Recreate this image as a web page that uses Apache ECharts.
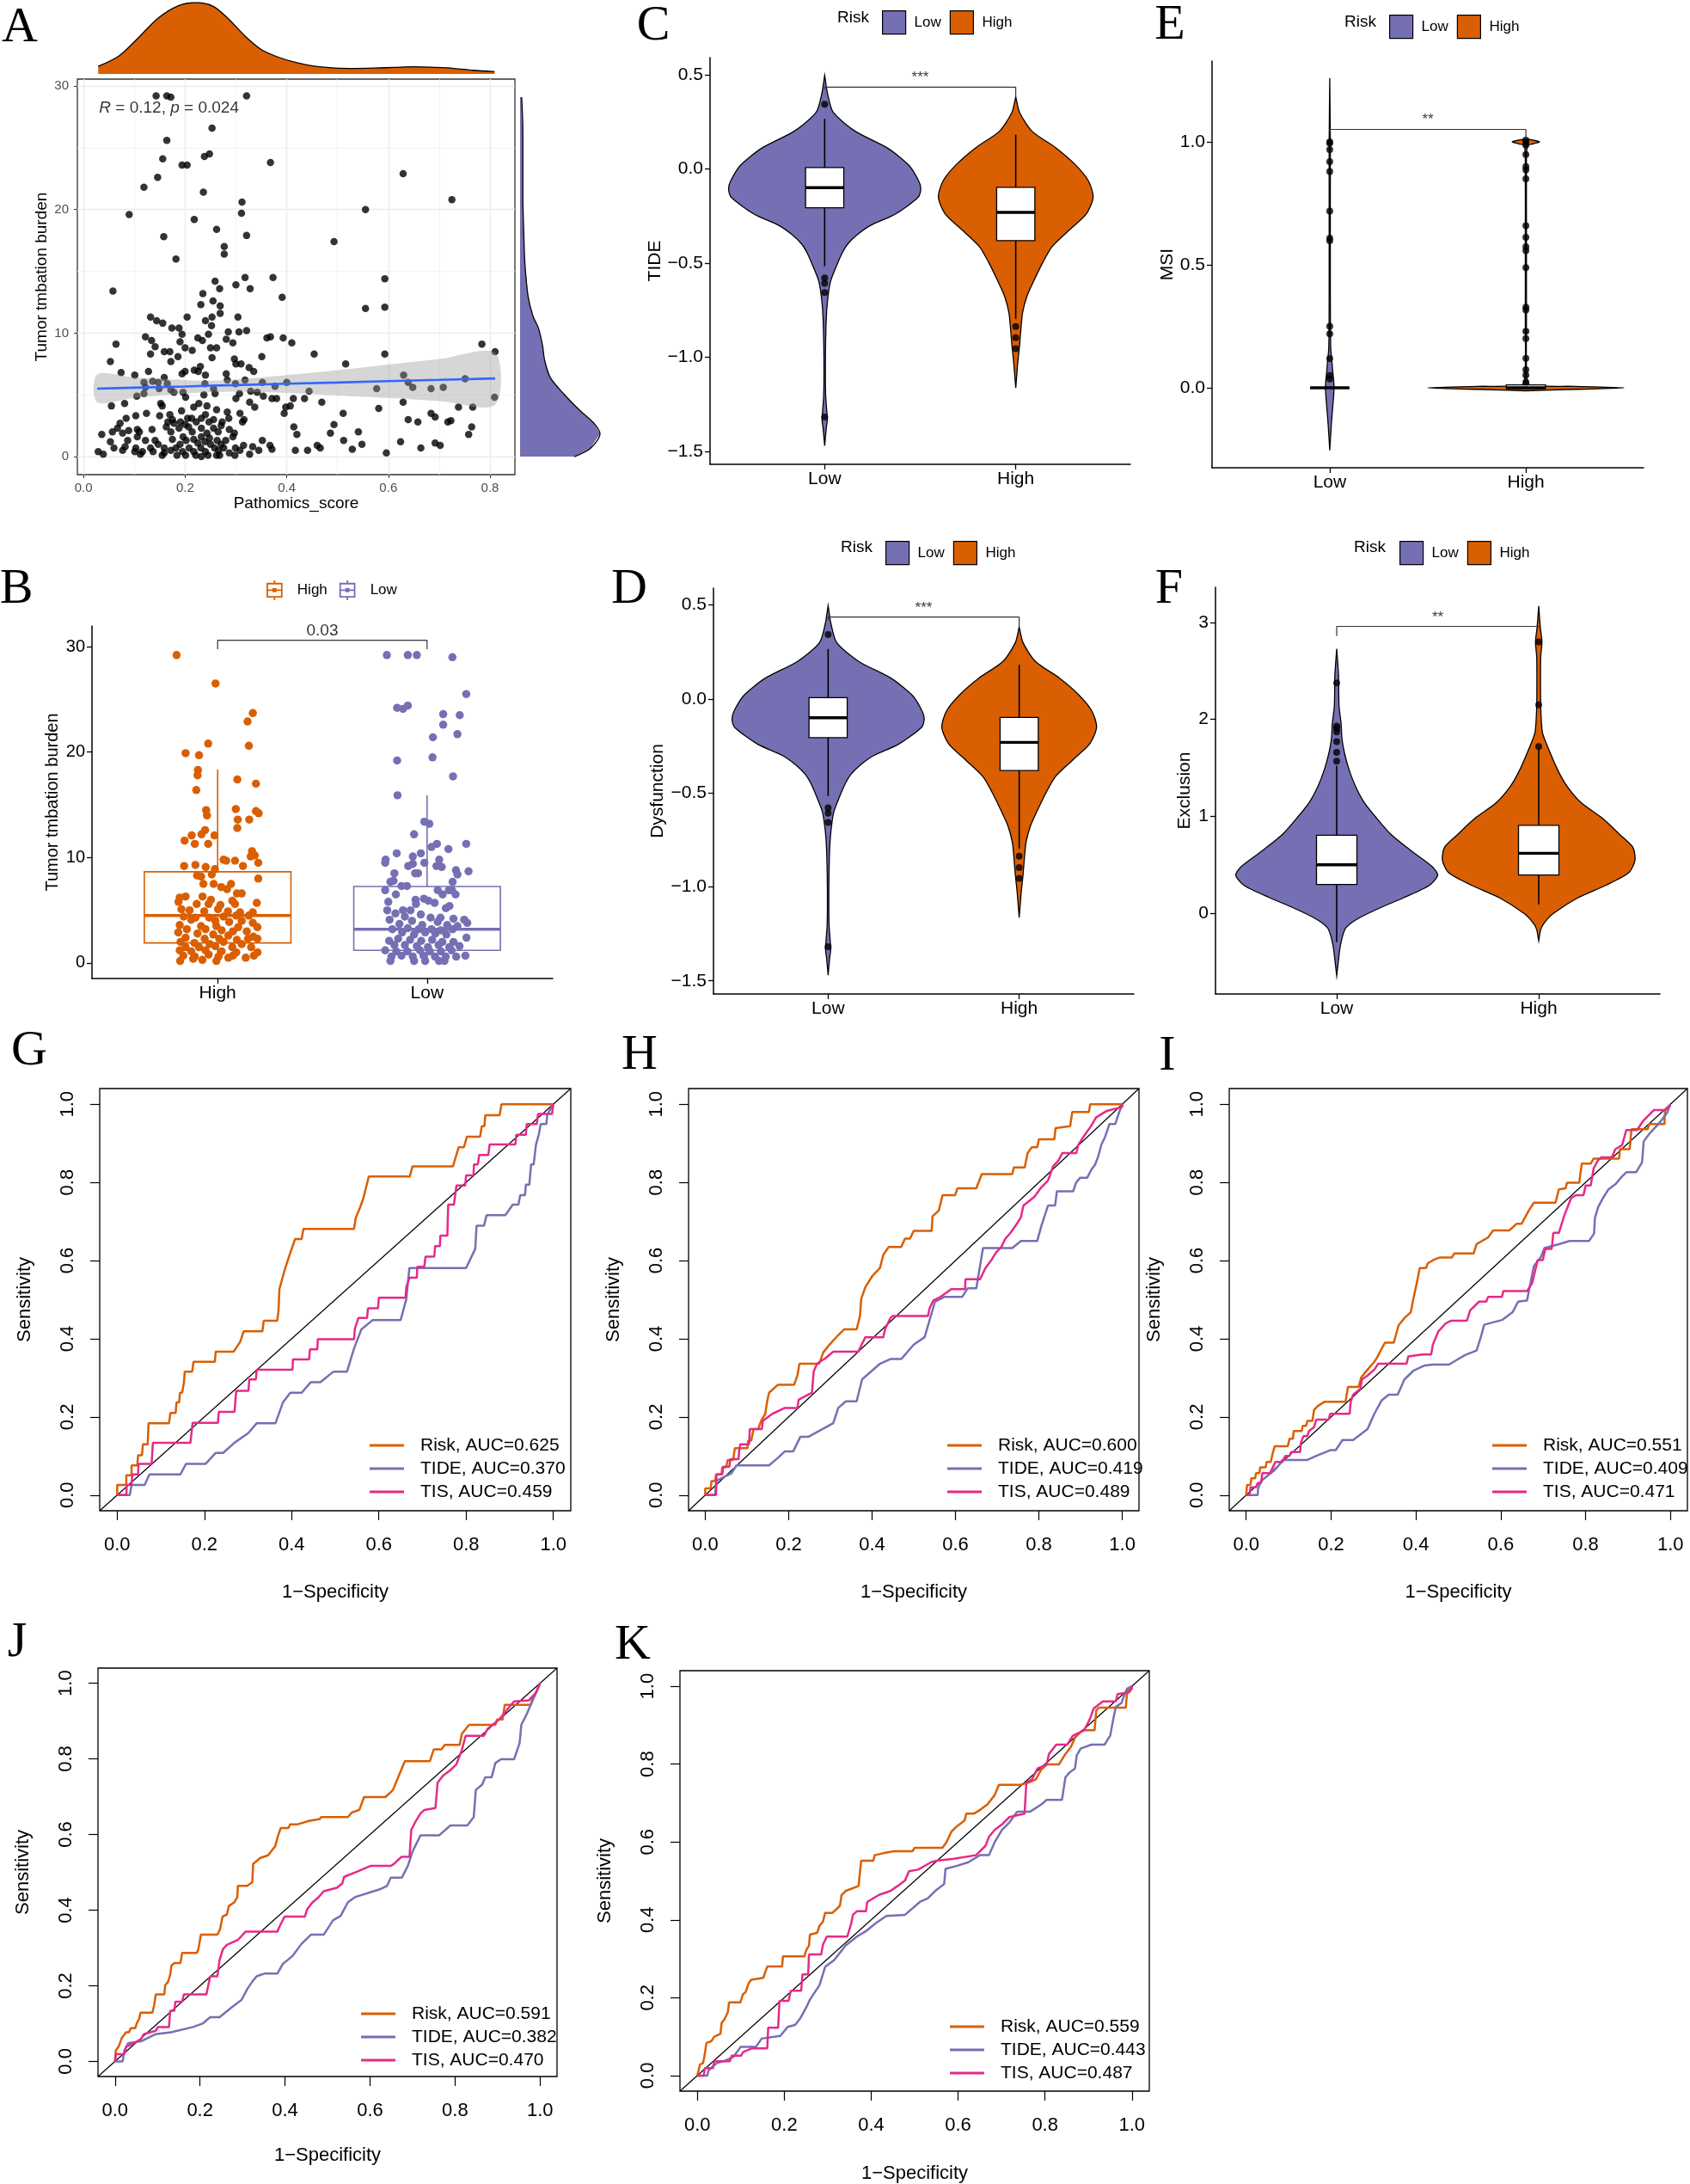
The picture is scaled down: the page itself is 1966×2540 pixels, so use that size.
<!DOCTYPE html>
<html>
<head>
<meta charset="utf-8">
<script src="https://cdn.jsdelivr.net/npm/echarts@6/dist/echarts.min.js"></script>
<style>
  html, body { margin: 0; padding: 0; background: #fff; }
  #chart { width: 1966px; height: 2540px; }
</style>
</head>
<body>
<div id="chart"></div>
<script>
const SANS = "'Liberation Sans', Arial, sans-serif"
const SERIF = "'Liberation Serif', 'Times New Roman', serif"
const ORANGE = '#D95F02'
const PURPLE = '#7570B3'
const PINK = '#E7298A'

// ---------- A: pathomics score vs TMB ----------
const tmbScatter = [
  [0.143,29.2],[0.164,29.2],[0.172,29.1],[0.321,29.2],[0.253,26.6],[0.164,25.6],[0.248,24.5],[0.238,24.3],[0.156,24.1],[0.368,23.8],
  [0.194,23.6],[0.204,23.6],[0.146,22.6],[0.629,22.9],[0.119,21.8],[0.236,21.4],[0.312,20.6],[0.725,20.8],[0.311,19.7],[0.090,19.6],
  [0.555,20.0],[0.218,19.2],[0.262,18.4],[0.158,17.8],[0.321,17.9],[0.493,17.4],[0.277,17.0],[0.277,16.4],[0.182,16.0],[0.373,14.5],
  [0.318,14.5],[0.593,14.4],[0.259,14.2],[0.300,13.9],[0.328,13.6],[0.268,13.6],[0.058,13.4],[0.235,13.2],[0.391,12.9],[0.255,12.6],
  [0.231,12.3],[0.269,12.2],[0.555,12.0],[0.593,12.1],[0.269,11.6],[0.132,11.3],[0.204,11.3],[0.304,11.3],[0.253,11.3],[0.144,11.0],
  [0.156,10.8],[0.240,11.0],[0.252,10.6],[0.174,10.4],[0.188,10.4],[0.321,10.2],[0.285,10.1],[0.194,9.9],[0.246,9.9],[0.122,9.7],
  [0.306,10.1],[0.361,9.6],[0.368,9.7],[0.225,9.6],[0.134,9.4],[0.393,9.6],[0.281,9.5],[0.234,9.4],[0.294,9.2],[0.064,9.1],
  [0.190,9.3],[0.410,9.2],[0.141,8.9],[0.200,8.8],[0.784,9.1],[0.250,8.8],[0.262,8.8],[0.214,8.6],[0.159,8.5],[0.170,8.5],
  [0.810,8.5],[0.132,8.3],[0.454,8.3],[0.593,8.3],[0.186,8.1],[0.351,8.1],[0.172,7.7],[0.053,7.7],[0.253,8.0],[0.297,7.9],
  [0.300,7.5],[0.310,7.5],[0.516,7.5],[0.230,7.3],[0.326,7.2],[0.335,6.9],[0.218,7.0],[0.200,6.9],[0.074,6.8],[0.128,6.9],
  [0.226,6.9],[0.101,6.6],[0.194,6.7],[0.240,6.6],[0.281,6.7],[0.630,6.6],[0.159,6.4],[0.136,6.1],[0.119,6.0],[0.147,6.0],
  [0.283,6.2],[0.318,6.2],[0.352,6.0],[0.400,6.0],[0.639,6.0],[0.751,6.3],[0.299,5.9],[0.165,5.9],[0.377,5.7],[0.239,5.9],
  [0.648,5.6],[0.577,5.5],[0.684,5.5],[0.708,5.6],[0.122,5.6],[0.256,5.5],[0.149,5.5],[0.172,5.4],[0.329,5.3],[0.444,5.3],
  [0.342,5.2],[0.178,5.2],[0.196,5.2],[0.307,5.1],[0.119,5.1],[0.105,4.9],[0.237,5.0],[0.259,5.1],[0.354,4.9],[0.201,4.8],
  [0.809,4.8],[0.300,4.7],[0.371,4.7],[0.380,4.7],[0.413,4.7],[0.435,4.7],[0.327,4.4],[0.469,4.4],[0.629,4.4],[0.227,4.3],
  [0.152,4.3],[0.081,4.3],[0.055,4.1],[0.243,4.1],[0.407,4.1],[0.337,4.0],[0.398,4.0],[0.738,4.0],[0.766,4.0],[0.155,4.1],
  [0.217,4.0],[0.581,3.9],[0.193,3.7],[0.262,3.8],[0.124,3.5],[0.283,3.6],[0.308,3.5],[0.395,3.5],[0.511,3.5],[0.684,3.5],
  [0.170,3.4],[0.240,3.4],[0.103,3.3],[0.692,3.2],[0.150,3.3],[0.084,3.1],[0.175,3.0],[0.205,3.1],[0.213,3.1],[0.232,3.1],
  [0.256,3.0],[0.286,3.1],[0.316,3.0],[0.639,3.0],[0.658,2.8],[0.717,2.8],[0.723,2.9],[0.166,2.8],[0.191,2.8],[0.222,2.8],
  [0.247,2.8],[0.273,2.8],[0.313,2.8],[0.072,2.7],[0.178,2.7],[0.200,2.6],[0.493,2.6],[0.067,2.3],[0.089,2.1],[0.106,2.2],
  [0.135,2.2],[0.163,2.4],[0.188,2.3],[0.207,2.4],[0.232,2.3],[0.256,2.3],[0.271,2.5],[0.287,2.2],[0.414,2.4],[0.541,2.0],
  [0.764,2.4],[0.057,2.0],[0.077,1.9],[0.110,2.0],[0.172,2.0],[0.214,2.0],[0.243,1.9],[0.265,2.0],[0.297,1.9],[0.036,1.8],
  [0.420,1.8],[0.486,1.9],[0.758,1.8],[0.106,1.6],[0.196,1.6],[0.232,1.6],[0.248,1.5],[0.294,1.6],[0.053,1.2],[0.087,1.3],
  [0.122,1.3],[0.141,1.3],[0.175,1.4],[0.202,1.3],[0.217,1.4],[0.239,1.2],[0.263,1.3],[0.280,1.3],[0.352,1.3],[0.512,1.3],
  [0.548,1.0],[0.624,1.2],[0.692,1.1],[0.702,0.9],[0.147,1.0],[0.190,1.0],[0.225,1.1],[0.250,1.0],[0.271,1.0],[0.315,0.9],
  [0.367,0.9],[0.060,0.7],[0.082,0.8],[0.103,0.7],[0.132,0.7],[0.159,0.7],[0.182,0.7],[0.208,0.7],[0.231,0.7],[0.258,0.7],
  [0.276,0.7],[0.299,0.7],[0.333,0.8],[0.371,0.6],[0.460,0.9],[0.466,0.7],[0.664,0.7],[0.029,0.4],[0.077,0.5],[0.101,0.4],
  [0.116,0.4],[0.137,0.4],[0.172,0.5],[0.195,0.4],[0.217,0.4],[0.240,0.4],[0.266,0.5],[0.287,0.3],[0.308,0.5],[0.345,0.5],
  [0.417,0.5],[0.441,0.5],[0.529,0.6],[0.596,0.3],[0.039,0.2],[0.112,0.2],[0.155,0.1],[0.184,0.1],[0.221,0.1],[0.232,0.0],
  [0.262,0.1],[0.268,0.1],[0.327,0.2],[0.159,0.3],[0.201,0.1],[0.245,0.1],[0.298,0.1]
]
const fitX = [0.027, 0.1, 0.2, 0.25, 0.3, 0.4, 0.5, 0.6, 0.7, 0.81]
const fitY = [5.50, 5.58, 5.68, 5.74, 5.79, 5.90, 6.00, 6.11, 6.21, 6.33]
const fitLo = [4.4, 4.75, 5.1, 5.2, 5.25, 5.15, 4.95, 4.75, 4.5, 4.2]
const fitHi = [6.65, 6.4, 6.2, 6.15, 6.25, 6.6, 7.0, 7.45, 7.9, 8.4]
const scoreDensX = [0.029, 0.070, 0.108, 0.147, 0.186, 0.221, 0.256, 0.287, 0.318, 0.349, 0.380, 0.418, 0.457, 0.496, 0.535, 0.573, 0.612, 0.651, 0.690, 0.729, 0.767, 0.809]
const scoreDensY = [0.106, 0.253, 0.507, 0.783, 0.954, 1.0, 0.945, 0.760, 0.530, 0.346, 0.244, 0.161, 0.106, 0.083, 0.078, 0.083, 0.092, 0.101, 0.092, 0.078, 0.051, 0.032]
const tmbDensV = [0, 0.66, 1.86, 2.66, 3.72, 5.05, 6.38, 7.71, 9.04, 10.4, 11.4, 13.0, 15.7, 18.4, 21.0, 23.7, 26.3, 29.1]
const tmbDensD = [0.68, 0.88, 1.0, 0.93, 0.75, 0.55, 0.38, 0.31, 0.28, 0.23, 0.16, 0.10, 0.06, 0.045, 0.035, 0.035, 0.035, 0.02]

// ---------- B: TMB by risk group (offset, value) ----------
const tmbHighJitter = [
  [-0.196,29.2],[-0.01,26.5],[0.168,23.7],[0.143,22.9],[-0.045,20.8],[0.149,20.6],[-0.153,19.9],[-0.089,19.7],[-0.094,18.3],[-0.096,17.8],
  [0.094,17.4],[0.183,17.0],[-0.102,16.4],[-0.055,14.5],[0.087,14.6],[0.183,14.4],[0.196,14.2],[-0.051,14.0],[0.096,13.6],[0.151,13.6],
  [0.094,12.8],[-0.06,12.6],[-0.077,12.2],[-0.124,12.1],[-0.015,12.1],[-0.158,11.6],[-0.109,11.3],[-0.045,11.3],[0.164,10.6],[0.158,10.1],
  [0.177,10.2],[0.028,9.8],[0.041,9.7],[0.083,9.7],[0.194,9.5],[-0.160,9.2],[-0.106,9.3],[-0.057,9.1],[-0.013,8.9],[0.121,9.2],
  [-0.098,8.3],[-0.079,8.2],[-0.028,8.4],[0.194,8.0],[-0.068,7.5],[-0.019,7.5],[0.064,7.5],[0.017,7.2],[0.045,7.0],[0.092,6.6],
  [0.115,6.6],[-0.181,6.2],[-0.153,6.3],[-0.072,6.3],[-0.032,6.0],[0.070,5.9],[0.187,5.7],[-0.187,5.8],[-0.1,5.6],[-0.043,5.6],
  [0.013,5.5],[0.083,5.6],[-0.173,5.1],[-0.134,5.0],[-0.064,4.9],[0.002,5.1],[0.049,4.9],[0.107,4.8],[0.168,4.8],[-0.162,4.4],
  [-0.106,4.3],[-0.04,4.3],[0.028,4.4],[0.089,4.5],[0.149,4.5],[-0.126,4.1],[-0.011,4.0],[0.055,3.9],[0.115,4.0],[0.168,3.8],
  [-0.181,3.6],[-0.079,3.5],[-0.006,3.5],[0.098,3.4],[0.19,3.4],[-0.147,3.2],[-0.058,3.2],[0.019,3.1],[0.073,3.0],[0.139,3.0],
  [-0.188,2.9],[-0.096,2.8],[-0.021,2.7],[0.051,2.6],[0.171,2.5],[-0.153,2.4],[-0.062,2.3],[0.008,2.3],[0.092,2.2],[0.145,2.3],
  [0.19,2.3],[-0.177,2.0],[-0.111,1.9],[-0.038,1.8],[0.028,2.0],[0.115,1.8],[-0.153,1.5],[-0.089,1.5],[-0.011,1.6],[0.07,1.5],
  [0.160,1.5],[-0.181,1.2],[-0.126,1.1],[-0.058,1.2],[0.019,1.1],[0.089,1.0],[0.19,1.0],[-0.164,0.7],[-0.109,0.6],[-0.043,0.8],
  [0.004,0.6],[0.073,0.7],[0.134,0.5],[0.173,0.7],[-0.179,0.2],[-0.117,0.4],[-0.073,0.3],[-0.006,0.2],[0.051,0.5]
]
const tmbLowJitter = [
  [-0.192,29.2],[-0.092,29.2],[-0.049,29.2],[0.121,29.0],[0.187,25.5],[-0.143,24.2],[-0.115,24.1],[-0.092,24.4],[0.077,23.6],[0.156,23.5],
  [0.077,22.6],[0.145,21.7],[0.028,21.4],[0.026,19.5],[-0.143,19.2],[0.124,17.7],[-0.141,15.9],[-0.013,13.4],[0.011,13.2],[-0.062,12.2],
  [0.021,11.0],[0.047,11.3],[0.187,11.3],[0.102,10.8],[-0.145,10.4],[-0.068,10.1],[-0.030,10.4],[-0.198,9.8],[0.058,9.8],[-0.068,9.4],
  [-0.013,9.5],[-0.090,9.2],[-0.2,9.5],[0.045,9.2],[0.070,9.1],[0.198,8.7],[0.138,8.8],[0.145,8.4],[-0.057,8.5],[-0.043,8.5],
  [-0.156,8.5],[-0.175,7.7],[-0.160,7.8],[0.122,7.7],[-0.122,7.3],[-0.096,7.3],[-0.2,6.9],[0.051,6.9],[0.119,6.9],[-0.149,6.5],
  [0.074,6.5],[0.136,6.5],[0.104,6.9],[-0.015,6.1],[-0.055,6.0],[0.006,5.9],[-0.185,5.8],[0.036,5.7],[-0.053,5.6],[0.107,5.4],
  [0.090,5.2],[-0.190,5.0],[-0.115,5.0],[-0.079,5.0],[-0.151,4.7],[-0.106,4.4],[-0.030,4.6],[0.017,4.3],[0.064,4.3],[0.126,4.2],
  [0.177,4.1],[-0.179,4.1],[-0.072,4.0],[0.051,3.9],[0.192,3.8],[-0.132,3.7],[-0.023,3.6],[0.096,3.6],[0.145,3.5],[-0.166,3.2],
  [-0.092,3.3],[-0.040,3.2],[0.021,3.2],[0.066,3.1],[0.122,3.2],[-0.119,2.9],[-0.062,2.7],[-0.009,2.9],[0.040,2.8],[0.092,2.7],
  [0.188,2.4],[-0.181,2.1],[-0.138,2.3],[-0.081,2.2],[-0.028,2.1],[0.024,2.2],[0.073,2.0],[0.126,2.0],[-0.156,1.7],[-0.106,1.7],
  [-0.049,1.6],[0.004,1.5],[0.055,1.7],[0.106,1.5],[0.155,1.6],[-0.2,1.2],[-0.147,1.1],[-0.094,1.1],[-0.034,1.2],[0.013,1.1],
  [0.066,1.1],[0.117,1.2],[0.183,0.7],[-0.170,0.6],[-0.122,0.7],[-0.068,0.6],[-0.017,0.7],[0.038,0.6],[0.089,0.6],[0.139,0.6],
  [-0.175,0.2],[-0.062,0.2],[-0.009,0.2],[0.057,0.2],[0.083,0.2]
]
// [lower whisker, Q1, median, Q3, upper whisker]
const tmbBoxHigh = [0.1, 1.9, 4.5, 8.65, 18.35]
const tmbBoxLow = [0.0, 1.2, 3.2, 7.25, 15.9]
const bracketB = [[0, 29.76], [0, 30.6], [1, 30.6], [1, 29.76]]

// ---------- C / D: TIDE and Dysfunction (same distribution) ----------
const tideLowV = [0.497, 0.40, 0.30, 0.20, 0.11, 0.02, -0.06, -0.105, -0.15, -0.24, -0.30, -0.35, -0.40, -0.45, -0.52, -0.60, -0.70, -0.80, -1.0, -1.2, -1.30, -1.33, -1.38, -1.47]
const tideLowW = [0, 0.015, 0.045, 0.16, 0.33, 0.44, 0.49, 0.503, 0.49, 0.37, 0.24, 0.17, 0.12, 0.09, 0.06, 0.03, 0.015, 0.008, 0.004, 0.005, 0.012, 0.014, 0.008, 0]
const tideHighV = [0.383, 0.30, 0.20, 0.112, 0.024, -0.063, -0.15, -0.238, -0.325, -0.413, -0.5, -0.587, -0.675, -0.762, -0.85, -0.937, -1.024, -1.10, -1.164]
const tideHighW = [0, 0.02, 0.085, 0.21, 0.31, 0.38, 0.405, 0.37, 0.28, 0.19, 0.14, 0.098, 0.059, 0.036, 0.027, 0.02, 0.011, 0.005, 0]
const tideBoxLow = [-0.517, -0.206, -0.10, 0.007, 0.266]
const tideBoxHigh = [-0.797, -0.381, -0.231, -0.098, 0.182]
const tideOutLow = [0.343, -0.579, -0.608, -0.657, -1.318]
const tideOutHigh = [-0.837, -0.897, -0.955]

// ---------- E: MSI ----------
const msiLowV = [-0.254, -0.15, -0.08, -0.03, 0, 0.03, 0.06, 0.1, 0.15, 0.2, 0.4, 0.8, 1.0, 1.26]
const msiLowW = [0, 0.008, 0.015, 0.02, 0.022, 0.02, 0.016, 0.012, 0.006, 0.004, 0.003, 0.003, 0.003, 0]
const msiHighV = [-0.012, -0.006, 0, 0.006, 0.012, 0.05, 0.3, 0.6, 0.9, 0.985, 0.993, 1.0, 1.007, 1.013]
const msiHighW = [0, 0.25, 0.5, 0.25, 0.02, 0.004, 0.003, 0.003, 0.003, 0.008, 0.04, 0.07, 0.04, 0]
const msiBoxLow = [0, 0, 0, 0, 0]
const msiBoxHigh = [0, 0, 0, 0.012, 0.03]
const msiOutLow = [1.0, 0.995, 0.969, 0.92, 0.88, 0.719, 0.609, 0.598, 0.25, 0.22, 0.119, 0.05, 0.036]
const msiOutHigh = [1.007, 1.0, 0.987, 0.949, 0.9, 0.887, 0.85, 0.659, 0.612, 0.574, 0.558, 0.489, 0.328, 0.317, 0.23, 0.2, 0.12, 0.074, 0.052, 0.023]

// ---------- F: Exclusion ----------
const exclLowV = [2.73, 2.46, 2.3, 2.13, 1.95, 1.80, 1.64, 1.47, 1.31, 1.14, 0.98, 0.815, 0.65, 0.486, 0.394, 0.289, 0.158, 0.06, -0.04, -0.105, -0.17, -0.335, -0.5, -0.647]
const exclLowW = [0, 0.009, 0.01, 0.012, 0.022, 0.026, 0.04, 0.063, 0.093, 0.137, 0.198, 0.268, 0.365, 0.47, 0.5, 0.46, 0.33, 0.22, 0.12, 0.07, 0.04, 0.018, 0.008, 0]
const exclHighV = [3.17, 2.95, 2.80, 2.65, 2.46, 2.13, 1.87, 1.74, 1.47, 1.31, 1.14, 0.98, 0.815, 0.684, 0.552, 0.42, 0.289, 0.158, -0.007, -0.105, -0.17, -0.286]
const exclHighW = [0, 0.008, 0.016, 0.01, 0.009, 0.01, 0.018, 0.04, 0.096, 0.14, 0.21, 0.315, 0.40, 0.465, 0.477, 0.447, 0.333, 0.193, 0.07, 0.026, 0.01, 0]
const exclBoxLow = [-0.30, 0.296, 0.5, 0.805, 1.52]
const exclBoxHigh = [0.092, 0.394, 0.618, 0.907, 1.69]
const exclOutLow = [2.376, 1.93, 1.906, 1.87, 1.77, 1.66, 1.57]
const exclOutHigh = [2.80, 2.15, 1.72]

// ---------- G-K: ROC curves [1-specificity, sensitivity] ----------
const gRisk = [[0,0],[0,0.026],[0.021,0.026],[0.021,0.051],[0.033,0.051],[0.033,0.076],[0.046,0.076],[0.048,0.102],[0.057,0.102],[0.059,0.13],[0.07,0.13],[0.072,0.184],[0.119,0.184],[0.122,0.21],[0.134,0.21],[0.136,0.237],[0.142,0.237],[0.144,0.262],[0.149,0.262],[0.153,0.287],[0.155,0.316],[0.172,0.316],[0.175,0.341],[0.224,0.341],[0.226,0.367],[0.267,0.367],[0.282,0.392],[0.29,0.419],[0.333,0.419],[0.336,0.446],[0.367,0.446],[0.37,0.473],[0.372,0.527],[0.384,0.576],[0.397,0.62],[0.408,0.655],[0.423,0.655],[0.427,0.681],[0.543,0.681],[0.547,0.709],[0.556,0.733],[0.564,0.758],[0.577,0.815],[0.671,0.815],[0.677,0.841],[0.77,0.841],[0.783,0.89],[0.795,0.89],[0.802,0.917],[0.832,0.917],[0.836,0.944],[0.842,0.944],[0.844,0.972],[0.877,0.972],[0.881,1],[1,1]]
const gTide = [[0,0],[0.029,0],[0.033,0.026],[0.063,0.026],[0.074,0.053],[0.145,0.053],[0.158,0.08],[0.203,0.08],[0.226,0.108],[0.243,0.108],[0.269,0.134],[0.301,0.159],[0.32,0.184],[0.363,0.184],[0.38,0.237],[0.397,0.262],[0.423,0.262],[0.444,0.289],[0.466,0.289],[0.496,0.316],[0.527,0.316],[0.543,0.375],[0.56,0.424],[0.586,0.448],[0.65,0.448],[0.663,0.502],[0.67,0.581],[0.8,0.581],[0.821,0.63],[0.824,0.689],[0.841,0.689],[0.847,0.716],[0.89,0.716],[0.907,0.743],[0.92,0.743],[0.924,0.767],[0.935,0.767],[0.937,0.794],[0.945,0.794],[0.949,0.846],[0.955,0.846],[0.96,0.895],[0.967,0.924],[0.971,0.949],[0.984,0.949],[0.986,0.973],[1,1]]
const gTis = [[0,0],[0.021,0],[0.022,0.026],[0.033,0.026],[0.035,0.053],[0.048,0.053],[0.049,0.08],[0.079,0.08],[0.082,0.134],[0.168,0.134],[0.173,0.185],[0.231,0.185],[0.233,0.213],[0.269,0.213],[0.273,0.267],[0.301,0.267],[0.303,0.296],[0.318,0.296],[0.32,0.321],[0.402,0.321],[0.403,0.347],[0.44,0.347],[0.442,0.373],[0.459,0.373],[0.46,0.399],[0.543,0.399],[0.545,0.426],[0.553,0.453],[0.573,0.453],[0.575,0.478],[0.598,0.478],[0.6,0.505],[0.661,0.505],[0.663,0.532],[0.67,0.556],[0.687,0.556],[0.688,0.584],[0.704,0.584],[0.707,0.61],[0.727,0.61],[0.729,0.637],[0.74,0.637],[0.741,0.664],[0.757,0.664],[0.759,0.743],[0.772,0.743],[0.778,0.792],[0.798,0.792],[0.8,0.818],[0.817,0.818],[0.818,0.846],[0.827,0.846],[0.83,0.87],[0.851,0.87],[0.854,0.897],[0.913,0.897],[0.915,0.922],[0.937,0.922],[0.939,0.949],[0.962,0.949],[0.965,0.975],[0.997,0.975],[1,1]]
const hRisk = [[0,0],[0,0.017],[0.013,0.017],[0.015,0.036],[0.024,0.036],[0.026,0.053],[0.039,0.053],[0.041,0.071],[0.05,0.071],[0.054,0.09],[0.067,0.09],[0.071,0.12],[0.101,0.12],[0.103,0.139],[0.11,0.139],[0.116,0.169],[0.127,0.169],[0.134,0.19],[0.144,0.208],[0.148,0.237],[0.153,0.262],[0.174,0.282],[0.213,0.282],[0.221,0.306],[0.226,0.336],[0.273,0.336],[0.283,0.365],[0.298,0.385],[0.316,0.406],[0.333,0.424],[0.363,0.424],[0.371,0.458],[0.374,0.502],[0.384,0.532],[0.401,0.561],[0.419,0.581],[0.427,0.615],[0.44,0.635],[0.47,0.635],[0.479,0.656],[0.491,0.656],[0.5,0.676],[0.543,0.676],[0.545,0.713],[0.56,0.728],[0.569,0.767],[0.599,0.767],[0.605,0.785],[0.65,0.785],[0.663,0.821],[0.736,0.821],[0.74,0.838],[0.766,0.838],[0.773,0.875],[0.783,0.89],[0.796,0.89],[0.8,0.91],[0.837,0.91],[0.84,0.939],[0.875,0.944],[0.88,0.98],[0.92,0.98],[0.923,1],[1,1]]
const hTide = [[0,0],[0.024,0],[0.026,0.036],[0.063,0.056],[0.075,0.076],[0.153,0.076],[0.174,0.095],[0.191,0.112],[0.211,0.112],[0.228,0.149],[0.247,0.149],[0.307,0.184],[0.319,0.223],[0.337,0.24],[0.363,0.24],[0.376,0.296],[0.419,0.336],[0.444,0.348],[0.47,0.348],[0.5,0.385],[0.526,0.404],[0.551,0.495],[0.573,0.507],[0.616,0.507],[0.629,0.529],[0.65,0.529],[0.666,0.632],[0.736,0.632],[0.757,0.65],[0.796,0.65],[0.806,0.689],[0.822,0.741],[0.839,0.741],[0.843,0.777],[0.882,0.777],[0.889,0.799],[0.899,0.812],[0.916,0.812],[0.925,0.831],[0.935,0.846],[0.942,0.866],[0.95,0.897],[0.959,0.917],[0.969,0.949],[0.983,0.949],[0.991,0.975],[1,1]]
const hTis = [[0,0],[0.026,0],[0.027,0.053],[0.041,0.053],[0.043,0.073],[0.058,0.073],[0.06,0.092],[0.08,0.092],[0.081,0.11],[0.084,0.13],[0.105,0.13],[0.107,0.169],[0.136,0.169],[0.138,0.19],[0.161,0.208],[0.191,0.223],[0.221,0.223],[0.224,0.244],[0.256,0.262],[0.26,0.316],[0.268,0.336],[0.288,0.35],[0.307,0.367],[0.367,0.367],[0.376,0.387],[0.384,0.404],[0.427,0.404],[0.431,0.424],[0.444,0.453],[0.449,0.458],[0.534,0.458],[0.538,0.478],[0.547,0.498],[0.564,0.507],[0.59,0.527],[0.623,0.527],[0.624,0.552],[0.659,0.552],[0.666,0.568],[0.672,0.581],[0.686,0.601],[0.697,0.62],[0.71,0.635],[0.719,0.655],[0.732,0.671],[0.744,0.689],[0.757,0.711],[0.763,0.741],[0.789,0.763],[0.804,0.785],[0.822,0.805],[0.834,0.841],[0.847,0.856],[0.856,0.875],[0.89,0.875],[0.894,0.895],[0.907,0.917],[0.925,0.944],[0.937,0.966],[0.963,0.983],[1,0.993],[1,1]]
const iRisk = [[0,0],[0.002,0.026],[0.01,0.026],[0.012,0.043],[0.021,0.043],[0.023,0.056],[0.031,0.056],[0.033,0.071],[0.046,0.071],[0.048,0.085],[0.058,0.085],[0.062,0.105],[0.067,0.125],[0.098,0.125],[0.102,0.144],[0.11,0.144],[0.112,0.164],[0.131,0.164],[0.133,0.177],[0.141,0.177],[0.144,0.19],[0.156,0.19],[0.16,0.218],[0.169,0.228],[0.185,0.239],[0.234,0.239],[0.24,0.277],[0.265,0.277],[0.271,0.301],[0.286,0.321],[0.302,0.341],[0.309,0.353],[0.317,0.37],[0.327,0.39],[0.348,0.39],[0.359,0.434],[0.373,0.453],[0.388,0.468],[0.394,0.502],[0.403,0.547],[0.409,0.581],[0.424,0.581],[0.428,0.593],[0.444,0.603],[0.457,0.608],[0.485,0.608],[0.49,0.618],[0.536,0.618],[0.543,0.642],[0.57,0.659],[0.582,0.677],[0.62,0.677],[0.637,0.694],[0.649,0.694],[0.666,0.728],[0.678,0.748],[0.729,0.748],[0.737,0.782],[0.753,0.785],[0.756,0.799],[0.785,0.799],[0.791,0.848],[0.812,0.848],[0.819,0.861],[0.879,0.861],[0.881,0.885],[0.904,0.885],[0.908,0.936],[0.946,0.936],[0.95,0.949],[0.986,0.949],[0.987,0.983],[1,1]]
const iTide = [[0,0],[0.027,0],[0.028,0.017],[0.035,0.036],[0.052,0.051],[0.064,0.061],[0.077,0.076],[0.085,0.09],[0.144,0.09],[0.169,0.102],[0.198,0.115],[0.211,0.115],[0.227,0.141],[0.252,0.141],[0.286,0.169],[0.302,0.208],[0.319,0.242],[0.336,0.257],[0.357,0.257],[0.373,0.296],[0.394,0.318],[0.419,0.331],[0.44,0.334],[0.478,0.334],[0.495,0.345],[0.515,0.358],[0.543,0.37],[0.553,0.404],[0.561,0.436],[0.603,0.448],[0.628,0.468],[0.641,0.495],[0.662,0.498],[0.668,0.532],[0.678,0.586],[0.695,0.61],[0.703,0.632],[0.737,0.642],[0.762,0.65],[0.808,0.65],[0.82,0.669],[0.822,0.709],[0.83,0.738],[0.841,0.76],[0.854,0.782],[0.872,0.797],[0.883,0.812],[0.896,0.826],[0.919,0.826],[0.933,0.851],[0.937,0.905],[0.95,0.924],[0.967,0.944],[0.979,0.959],[0.992,0.978],[1,1]]
const iTis = [[0,0],[0.008,0],[0.01,0.02],[0.023,0.02],[0.027,0.031],[0.035,0.031],[0.038,0.056],[0.056,0.056],[0.069,0.085],[0.085,0.085],[0.092,0.1],[0.102,0.1],[0.106,0.11],[0.127,0.11],[0.129,0.134],[0.135,0.151],[0.144,0.151],[0.148,0.164],[0.16,0.174],[0.165,0.193],[0.194,0.193],[0.198,0.208],[0.244,0.208],[0.246,0.237],[0.252,0.257],[0.269,0.272],[0.273,0.296],[0.286,0.306],[0.302,0.321],[0.311,0.336],[0.378,0.336],[0.382,0.355],[0.415,0.36],[0.436,0.36],[0.44,0.385],[0.453,0.419],[0.47,0.439],[0.482,0.446],[0.52,0.446],[0.528,0.473],[0.549,0.495],[0.566,0.495],[0.57,0.507],[0.603,0.507],[0.606,0.522],[0.662,0.522],[0.674,0.542],[0.687,0.601],[0.699,0.601],[0.705,0.63],[0.72,0.63],[0.724,0.671],[0.737,0.671],[0.745,0.699],[0.749,0.713],[0.758,0.738],[0.766,0.76],[0.777,0.767],[0.795,0.767],[0.8,0.792],[0.812,0.792],[0.819,0.836],[0.829,0.856],[0.837,0.864],[0.862,0.864],[0.87,0.885],[0.886,0.895],[0.896,0.934],[0.921,0.934],[0.937,0.959],[0.961,0.985],[0.987,0.985],[1,0.998]]
const jRisk = [[0,0],[0.002,0.029],[0.009,0.04],[0.016,0.062],[0.026,0.077],[0.033,0.077],[0.037,0.088],[0.048,0.088],[0.051,0.1],[0.057,0.113],[0.06,0.129],[0.088,0.129],[0.092,0.148],[0.096,0.177],[0.116,0.177],[0.118,0.201],[0.125,0.211],[0.13,0.23],[0.133,0.254],[0.14,0.26],[0.154,0.26],[0.158,0.287],[0.193,0.287],[0.197,0.301],[0.202,0.335],[0.241,0.335],[0.247,0.349],[0.253,0.383],[0.263,0.388],[0.268,0.411],[0.281,0.421],[0.288,0.435],[0.289,0.464],[0.311,0.464],[0.323,0.474],[0.325,0.522],[0.342,0.538],[0.36,0.545],[0.377,0.569],[0.384,0.598],[0.39,0.617],[0.408,0.617],[0.412,0.627],[0.43,0.627],[0.456,0.636],[0.482,0.641],[0.485,0.646],[0.548,0.646],[0.557,0.658],[0.575,0.665],[0.586,0.699],[0.636,0.699],[0.645,0.708],[0.654,0.718],[0.675,0.775],[0.682,0.794],[0.741,0.794],[0.75,0.825],[0.768,0.825],[0.776,0.837],[0.811,0.837],[0.816,0.866],[0.833,0.89],[0.895,0.89],[0.899,0.904],[0.912,0.904],[0.917,0.943],[0.978,0.943],[0.982,0.957],[0.995,0.986],[1,1]]
const jTide = [[0,0],[0.018,0],[0.022,0.029],[0.031,0.048],[0.061,0.053],[0.096,0.072],[0.132,0.077],[0.184,0.091],[0.206,0.1],[0.224,0.117],[0.246,0.117],[0.276,0.144],[0.298,0.163],[0.311,0.191],[0.323,0.211],[0.333,0.225],[0.351,0.232],[0.382,0.232],[0.395,0.258],[0.417,0.278],[0.439,0.311],[0.461,0.335],[0.491,0.335],[0.513,0.373],[0.531,0.385],[0.548,0.421],[0.566,0.435],[0.623,0.455],[0.64,0.464],[0.649,0.486],[0.675,0.486],[0.689,0.517],[0.7,0.555],[0.719,0.598],[0.763,0.598],[0.789,0.624],[0.829,0.624],[0.844,0.646],[0.849,0.718],[0.864,0.732],[0.871,0.751],[0.886,0.751],[0.895,0.789],[0.908,0.799],[0.939,0.799],[0.952,0.842],[0.956,0.89],[0.969,0.919],[0.978,0.943],[0.991,0.976],[1,1]]
const jTis = [[0,0],[0.002,0.019],[0.022,0.019],[0.026,0.038],[0.044,0.048],[0.061,0.059],[0.068,0.072],[0.096,0.081],[0.101,0.091],[0.127,0.091],[0.13,0.134],[0.14,0.134],[0.142,0.158],[0.158,0.158],[0.162,0.177],[0.215,0.177],[0.224,0.225],[0.241,0.225],[0.246,0.268],[0.254,0.297],[0.263,0.308],[0.289,0.321],[0.307,0.343],[0.382,0.343],[0.386,0.354],[0.399,0.383],[0.447,0.383],[0.452,0.402],[0.465,0.421],[0.478,0.433],[0.491,0.45],[0.522,0.459],[0.535,0.471],[0.539,0.488],[0.57,0.502],[0.601,0.517],[0.649,0.517],[0.656,0.522],[0.674,0.541],[0.693,0.541],[0.697,0.612],[0.706,0.632],[0.719,0.656],[0.728,0.665],[0.754,0.67],[0.759,0.737],[0.772,0.756],[0.789,0.77],[0.803,0.785],[0.816,0.823],[0.825,0.861],[0.868,0.861],[0.877,0.88],[0.904,0.904],[0.921,0.928],[0.939,0.952],[0.974,0.955],[0.991,0.976],[1,1]]
const kRisk = [[0,0],[0.006,0.028],[0.013,0.032],[0.016,0.048],[0.021,0.084],[0.032,0.088],[0.039,0.1],[0.053,0.107],[0.056,0.135],[0.062,0.144],[0.07,0.162],[0.073,0.188],[0.099,0.188],[0.105,0.209],[0.111,0.214],[0.118,0.237],[0.124,0.246],[0.152,0.251],[0.156,0.265],[0.161,0.28],[0.195,0.28],[0.197,0.306],[0.246,0.306],[0.251,0.323],[0.257,0.334],[0.259,0.362],[0.276,0.367],[0.281,0.385],[0.289,0.395],[0.294,0.418],[0.311,0.418],[0.328,0.436],[0.332,0.464],[0.341,0.474],[0.371,0.487],[0.377,0.552],[0.405,0.552],[0.408,0.566],[0.427,0.571],[0.452,0.576],[0.495,0.576],[0.5,0.585],[0.564,0.585],[0.573,0.599],[0.585,0.627],[0.598,0.641],[0.615,0.655],[0.619,0.673],[0.637,0.673],[0.65,0.682],[0.667,0.696],[0.684,0.72],[0.694,0.747],[0.744,0.747],[0.766,0.754],[0.779,0.761],[0.791,0.785],[0.804,0.799],[0.832,0.799],[0.847,0.826],[0.86,0.845],[0.869,0.868],[0.886,0.887],[0.914,0.887],[0.918,0.938],[0.924,0.945],[0.986,0.945],[0.989,0.986],[1,1]]
const kTide = [[0,0],[0.023,0],[0.026,0.014],[0.045,0.032],[0.066,0.039],[0.083,0.048],[0.1,0.074],[0.135,0.074],[0.148,0.095],[0.191,0.102],[0.208,0.125],[0.225,0.13],[0.238,0.149],[0.251,0.176],[0.259,0.195],[0.281,0.232],[0.294,0.279],[0.315,0.297],[0.341,0.334],[0.367,0.357],[0.388,0.371],[0.409,0.39],[0.435,0.41],[0.478,0.413],[0.512,0.446],[0.53,0.455],[0.547,0.474],[0.568,0.492],[0.571,0.531],[0.598,0.539],[0.624,0.548],[0.65,0.566],[0.671,0.566],[0.684,0.599],[0.701,0.631],[0.718,0.65],[0.736,0.678],[0.766,0.678],[0.791,0.696],[0.804,0.708],[0.839,0.708],[0.847,0.766],[0.856,0.778],[0.869,0.789],[0.873,0.822],[0.882,0.84],[0.907,0.85],[0.937,0.85],[0.95,0.873],[0.957,0.915],[0.963,0.947],[0.976,0.957],[0.98,0.97],[0.989,0.994],[1,1]]
const kTis = [[0,0],[0.015,0],[0.017,0.019],[0.036,0.019],[0.039,0.037],[0.075,0.037],[0.079,0.051],[0.101,0.051],[0.105,0.06],[0.126,0.07],[0.161,0.07],[0.163,0.123],[0.186,0.123],[0.189,0.192],[0.21,0.192],[0.215,0.218],[0.239,0.218],[0.242,0.26],[0.255,0.26],[0.257,0.311],[0.285,0.311],[0.289,0.336],[0.298,0.357],[0.345,0.357],[0.354,0.39],[0.358,0.413],[0.367,0.422],[0.388,0.422],[0.391,0.446],[0.418,0.464],[0.444,0.474],[0.461,0.487],[0.478,0.501],[0.487,0.525],[0.508,0.529],[0.538,0.548],[0.551,0.552],[0.59,0.557],[0.641,0.566],[0.663,0.59],[0.671,0.613],[0.684,0.631],[0.701,0.645],[0.718,0.664],[0.753,0.673],[0.757,0.752],[0.77,0.761],[0.783,0.789],[0.804,0.799],[0.809,0.826],[0.826,0.85],[0.851,0.85],[0.864,0.873],[0.89,0.887],[0.903,0.915],[0.912,0.943],[0.933,0.961],[0.963,0.961],[0.967,0.98],[0.993,0.984],[1,0.994],[1,1]]
const aucG = ['0.625', '0.370', '0.459']
const aucH = ['0.600', '0.419', '0.489']
const aucI = ['0.551', '0.409', '0.471']
const aucJ = ['0.591', '0.382', '0.470']
const aucK = ['0.559', '0.443', '0.487']
const rocNames = ['Risk', 'TIDE', 'TIS']
const rocColors = [ORANGE, PURPLE, PINK]
const diagonal = [[-0.04, -0.04], [1.04, 1.04]]

// ---------- layout ----------
const grids = []
const xAxes = []
const yAxes = []
const series = []
const legends = []
const graphics = []

const minusFmt = (d) => (v) => (v < 0 ? '\u2212' : '') + Math.abs(v).toFixed(d)

const addGrid = (left, top, width, height, border) => {
  grids.push({
    left, top, width, height,
    show: !!border,
    borderColor: border || 'transparent',
    borderWidth: border ? 1.3 : 0,
    backgroundColor: 'transparent',
    outerBoundsMode: 'none',
    containLabel: false,
  })
  return grids.length - 1
}

const hiddenAxis = (gi, min, max) => ({
  gridIndex: gi, type: 'value', min, max, show: false,
  axisLine: { show: false, onZero: false }, splitLine: { show: false },
})

// A: scatter + marginal densities
const gA = addGrid(90, 92, 509, 460, '#333333')
xAxes[gA] = {
  gridIndex: gA, type: 'value', min: -0.012, max: 0.849,
  axisLine: { show: false, onZero: false },
  axisTick: { show: true, length: 4, customValues: [0, 0.2, 0.4, 0.6, 0.8], lineStyle: { color: '#333' } },
  axisLabel: { customValues: [0, 0.2, 0.4, 0.6, 0.8], formatter: (v) => v.toFixed(1), color: '#4D4D4D', fontSize: 15, fontFamily: SANS, margin: 8 },
  splitLine: { show: true, lineStyle: { color: '#EBEBEB', width: 1.4 } },
  name: 'Pathomics_score', nameLocation: 'middle', nameGap: 24,
  nameTextStyle: { fontSize: 19, fontFamily: SANS, color: '#000' },
}
yAxes[gA] = {
  gridIndex: gA, type: 'value', min: -1.46, max: 30.56,
  axisLine: { show: false, onZero: false },
  axisTick: { show: true, length: 4, customValues: [0, 10, 20, 30], lineStyle: { color: '#333' } },
  axisLabel: { customValues: [0, 10, 20, 30], formatter: (v) => String(v), color: '#4D4D4D', fontSize: 15, fontFamily: SANS, margin: 10 },
  splitLine: { show: true, lineStyle: { color: '#EBEBEB', width: 1.4 } },
  name: 'Tumor tmbation burden', nameLocation: 'middle', nameGap: 32, nameRotate: 90,
  nameTextStyle: { fontSize: 19, fontFamily: SANS, color: '#000' },
}
const gATop = addGrid(90, 3, 509, 83)
xAxes[gATop] = hiddenAxis(gATop, -0.012, 0.849)
yAxes[gATop] = hiddenAxis(gATop, 0, 1)
const gARight = addGrid(605, 92, 93, 460)
xAxes[gARight] = hiddenAxis(gARight, 0, 1)
yAxes[gARight] = hiddenAxis(gARight, -1.46, 30.56)

series.push({
  type: 'scatter', xAxisIndex: gA, yAxisIndex: gA, data: tmbScatter,
  symbolSize: 8.5, itemStyle: { color: '#000' }, z: 2, silent: true,
})
series.push({
  type: 'custom', xAxisIndex: gA, yAxisIndex: gA, data: [[fitX[0], fitY[0]]], z: 3, silent: true,
  renderItem: (params, api) => {
    const upper = fitX.map((x, i) => api.coord([x, fitHi[i]]))
    const lower = fitX.map((x, i) => api.coord([x, fitLo[i]])).reverse()
    return { type: 'polygon', shape: { points: upper.concat(lower), smooth: 0.3 }, style: { fill: 'rgba(153,153,153,0.4)' } }
  },
})
series.push({
  type: 'line', xAxisIndex: gA, yAxisIndex: gA, data: fitX.map((x, i) => [x, fitY[i]]),
  symbol: 'none', lineStyle: { color: '#3366FF', width: 2.6 }, z: 4, silent: true,
})
series.push({
  type: 'scatter', xAxisIndex: gA, yAxisIndex: gA, data: [[0.03, 28.2]], symbolSize: 1,
  itemStyle: { color: 'transparent' }, z: 5, silent: true,
  label: {
    show: true, position: 'right', distance: 0,
    formatter: '{i|R} = 0.12, {i|p} = 0.024',
    fontSize: 19, fontFamily: SANS, color: '#000',
    rich: { i: { fontStyle: 'italic', fontSize: 19, fontFamily: SANS, color: '#000' } },
  },
})
series.push({
  type: 'line', xAxisIndex: gATop, yAxisIndex: gATop, data: scoreDensX.map((x, i) => [x, scoreDensY[i]]),
  symbol: 'none', smooth: 0.3, lineStyle: { color: '#000', width: 1.3 },
  areaStyle: { color: ORANGE, opacity: 1 }, silent: true,
})
series.push({
  type: 'custom', xAxisIndex: gARight, yAxisIndex: gARight, data: [[0, 0]], silent: true,
  renderItem: (params, api) => {
    const pts = [api.coord([0, tmbDensV[0]])]
    tmbDensV.forEach((v, i) => pts.push(api.coord([tmbDensD[i], v])))
    pts.push(api.coord([0, tmbDensV[tmbDensV.length - 1]]))
    return { type: 'polygon', shape: { points: pts }, style: { fill: PURPLE } }
  },
})
series.push({
  type: 'line', xAxisIndex: gARight, yAxisIndex: gARight, data: tmbDensV.map((v, i) => [tmbDensD[i], v]),
  symbol: 'none', smooth: 0.3, lineStyle: { color: '#000', width: 1.3 }, z: 3, silent: true,
})

// category-style axes for B-F (groups sit at 0 and 1)
const groupAxis = (gi, labels, fontSize) => ({
  gridIndex: gi, type: 'value', min: -0.6, max: 1.6,
  axisLine: { show: true, onZero: false, lineStyle: { color: '#000', width: 1.5 } },
  axisTick: { show: true, length: 6, customValues: [0, 1], lineStyle: { color: '#000', width: 1.3 } },
  axisLabel: { customValues: [0, 1], formatter: (v) => labels[Math.round(v)], fontSize, fontFamily: SANS, color: '#000', margin: 7 },
  splitLine: { show: false },
})
const valueAxis = (gi, min, max, ticks, fmt, name, nameGap, fontSize, nameSize) => ({
  gridIndex: gi, type: 'value', min, max,
  axisLine: { show: true, onZero: false, lineStyle: { color: '#000', width: 1.5 } },
  axisTick: { show: true, length: 6, customValues: ticks, lineStyle: { color: '#000', width: 1.3 } },
  axisLabel: { customValues: ticks, formatter: fmt, fontSize, fontFamily: SANS, color: '#000', margin: 8 },
  splitLine: { show: false },
  name, nameLocation: 'middle', nameGap, nameRotate: 90,
  nameTextStyle: { fontSize: nameSize, fontFamily: SANS, color: '#000' },
})

// B: box + jitter
const gB = addGrid(107, 728, 536, 410)
xAxes[gB] = groupAxis(gB, ['High', 'Low'], 21)
yAxes[gB] = valueAxis(gB, -1.47, 31.96, [0, 10, 20, 30], (v) => String(v), 'Tumor tmbation burden', 36, 20, 20)

const plainBox = (gi, name, color, cat, box) => ({
  type: 'custom', name, xAxisIndex: gi, yAxisIndex: gi, data: [[cat, box[2]]], itemStyle: { color }, z: 2, silent: true,
  renderItem: (params, api) => {
    const [lo, q1, md, q3, hi] = box
    const hw = 0.35
    const c = (x, y) => api.coord([x, y])
    const seg = (a, b, w) => ({ type: 'line', shape: { x1: a[0], y1: a[1], x2: b[0], y2: b[1] }, style: { stroke: color, lineWidth: w } })
    const tl = c(cat - hw, q3)
    const br = c(cat + hw, q1)
    return {
      type: 'group',
      children: [
        seg(c(cat, q3), c(cat, hi), 1.6),
        seg(c(cat, q1), c(cat, lo), 1.6),
        { type: 'rect', shape: { x: tl[0], y: tl[1], width: br[0] - tl[0], height: br[1] - tl[1] }, style: { fill: 'none', stroke: color, lineWidth: 1.6 } },
        seg(c(cat - hw, md), c(cat + hw, md), 3.4),
      ],
    }
  },
})
series.push(plainBox(gB, 'High', ORANGE, 0, tmbBoxHigh))
series.push(plainBox(gB, 'Low', PURPLE, 1, tmbBoxLow))
series.push({
  type: 'scatter', xAxisIndex: gB, yAxisIndex: gB, data: tmbHighJitter.map(([o, v]) => [0 + o, v]),
  symbolSize: 9.5, itemStyle: { color: ORANGE, opacity: 1 }, z: 3, silent: true,
})
series.push({
  type: 'scatter', xAxisIndex: gB, yAxisIndex: gB, data: tmbLowJitter.map(([o, v]) => [1 + o, v]),
  symbolSize: 9.5, itemStyle: { color: PURPLE, opacity: 1 }, z: 3, silent: true,
})
series.push({
  type: 'line', xAxisIndex: gB, yAxisIndex: gB, data: bracketB, symbol: 'none',
  lineStyle: { color: '#333', width: 1.2 }, z: 4, silent: true,
})
const pLabel = (gi, x, y, text, fontSize) => ({
  type: 'scatter', xAxisIndex: gi, yAxisIndex: gi, data: [[x, y]], symbolSize: 1,
  itemStyle: { color: 'transparent' }, z: 5, silent: true,
  label: { show: true, position: 'inside', formatter: text, fontSize, fontFamily: SANS, color: '#000' },
})
series.push(pLabel(gB, 0.5, 31.45, '0.03', 19))

// C-F: violin + box
const violin = (gi, name, color, cat, vals, half, box, outliers) => {
  series.push({
    type: 'custom', name, xAxisIndex: gi, yAxisIndex: gi, data: [[cat, box[2]]], itemStyle: { color }, z: 2, silent: true,
    renderItem: (params, api) => {
      const c = (x, y) => api.coord([x, y])
      const leftSide = vals.map((v, i) => c(cat - half[i], v))
      const rightSide = vals.map((v, i) => c(cat + half[i], v)).reverse()
      const [lo, q1, md, q3, hi] = box
      const bw = 0.1
      const seg = (a, b, w) => ({ type: 'line', shape: { x1: a[0], y1: a[1], x2: b[0], y2: b[1] }, style: { stroke: '#000', lineWidth: w } })
      const tl = c(cat - bw, q3)
      const br = c(cat + bw, q1)
      return {
        type: 'group',
        children: [
          { type: 'polygon', shape: { points: leftSide.concat(rightSide), smooth: 0.25 }, style: { fill: color, stroke: '#000', lineWidth: 1.3 } },
          seg(c(cat, q3), c(cat, hi), 1.6),
          seg(c(cat, q1), c(cat, lo), 1.6),
          { type: 'rect', shape: { x: tl[0], y: tl[1], width: br[0] - tl[0], height: br[1] - tl[1] }, style: { fill: '#fff', stroke: '#000', lineWidth: 1.3 } },
          seg(c(cat - bw, md), c(cat + bw, md), 3.4),
        ],
      }
    },
  })
  series.push({
    type: 'scatter', xAxisIndex: gi, yAxisIndex: gi, data: outliers.map((v) => [cat, v]),
    symbolSize: 8, itemStyle: { color: '#000' }, z: 3, silent: true,
  })
}
const bracket = (gi, y, leftTip, rightTip, labelY, text) => {
  series.push({
    type: 'line', xAxisIndex: gi, yAxisIndex: gi, data: [[0, leftTip], [0, y], [1, y], [1, rightTip]],
    symbol: 'none', lineStyle: { color: '#333', width: 1.2 }, z: 4, silent: true,
  })
  series.push(pLabel(gi, 0.5, labelY, text, 17))
}

const gC = addGrid(826, 67, 489, 473)
xAxes[gC] = groupAxis(gC, ['Low', 'High'], 21)
yAxes[gC] = valueAxis(gC, -1.569, 0.591, [-1.5, -1, -0.5, 0, 0.5], minusFmt(1), 'TIDE', 52, 21, 21)
violin(gC, 'Low', PURPLE, 0, tideLowV, tideLowW, tideBoxLow, tideOutLow)
violin(gC, 'High', ORANGE, 1, tideHighV, tideHighW, tideBoxHigh, tideOutHigh)
bracket(gC, 0.434, 0.42, 0.383, 0.485, '***')

const gD = addGrid(830, 684, 489, 472)
xAxes[gD] = groupAxis(gD, ['Low', 'High'], 21)
yAxes[gD] = valueAxis(gD, -1.57, 0.59, [-1.5, -1, -0.5, 0, 0.5], minusFmt(1), 'Dysfunction', 54, 21, 21)
violin(gD, 'Low', PURPLE, 0, tideLowV, tideLowW, tideBoxLow, tideOutLow)
violin(gD, 'High', ORANGE, 1, tideHighV, tideHighW, tideBoxHigh, tideOutHigh)
bracket(gD, 0.436, 0.42, 0.385, 0.485, '***')

const gE = addGrid(1410, 71, 502, 473)
xAxes[gE] = groupAxis(gE, ['Low', 'High'], 21)
yAxes[gE] = valueAxis(gE, -0.325, 1.329, [0, 0.5, 1], minusFmt(1), 'MSI', 40, 21, 21)
violin(gE, 'Low', PURPLE, 0, msiLowV, msiLowW, msiBoxLow, msiOutLow)
violin(gE, 'High', ORANGE, 1, msiHighV, msiHighW, msiBoxHigh, msiOutHigh)
bracket(gE, 1.051, 1.04, 1.02, 1.09, '**')

const gF = addGrid(1414, 683, 517, 473)
xAxes[gF] = groupAxis(gF, ['Low', 'High'], 21)
yAxes[gF] = valueAxis(gF, -0.834, 3.364, [0, 1, 2, 3], minusFmt(0), 'Exclusion', 25, 21, 21)
violin(gF, 'Low', PURPLE, 0, exclLowV, exclLowW, exclBoxLow, exclOutLow)
violin(gF, 'High', ORANGE, 1, exclHighV, exclHighW, exclBoxHigh, exclOutHigh)
bracket(gF, 2.96, 2.86, 2.95, 3.05, '**')

// G-K: ROC panels
const rocTicks = [0, 0.2, 0.4, 0.6, 0.8, 1]
const rocPanel = (rect, curves, aucs, legendLeft, legendTop, xNameGap) => {
  const gi = addGrid(rect[0], rect[1], rect[2], rect[3], '#000')
  xAxes[gi] = {
    gridIndex: gi, type: 'value', min: -0.04, max: 1.04,
    axisLine: { show: false, onZero: false },
    axisTick: { show: true, length: 11, customValues: rocTicks, lineStyle: { color: '#000', width: 1.2 } },
    axisLabel: { customValues: rocTicks, formatter: (v) => v.toFixed(1), fontSize: 22, fontFamily: SANS, color: '#000', margin: 29 },
    splitLine: { show: false },
    name: '1\u2212Specificity', nameLocation: 'middle', nameGap: xNameGap,
    nameTextStyle: { fontSize: 22, fontFamily: SANS, color: '#000' },
  }
  yAxes[gi] = {
    gridIndex: gi, type: 'value', min: -0.04, max: 1.04,
    axisLine: { show: false, onZero: false },
    axisTick: { show: true, length: 11, customValues: rocTicks, lineStyle: { color: '#000', width: 1.2 } },
    axisLabel: { customValues: rocTicks, formatter: (v) => v.toFixed(1), fontSize: 22, fontFamily: SANS, color: '#000', margin: 26, rotate: 90 },
    splitLine: { show: false },
    name: 'Sensitivity', nameLocation: 'middle', nameGap: 76, nameRotate: 90,
    nameTextStyle: { fontSize: 22, fontFamily: SANS, color: '#000' },
  }
  series.push({
    type: 'line', xAxisIndex: gi, yAxisIndex: gi, data: diagonal, symbol: 'none',
    lineStyle: { color: '#000', width: 1.2 }, z: 2, silent: true,
  })
  const names = rocNames.map((n, i) => n + ', AUC=' + aucs[i])
  curves.forEach((c, i) => {
    series.push({
      type: 'line', name: names[i], xAxisIndex: gi, yAxisIndex: gi, data: c, symbol: 'none',
      color: rocColors[i], lineStyle: { color: rocColors[i], width: 2.5 }, z: 3, silent: true,
    })
  })
  legends.push({
    data: names, left: legendLeft, top: legendTop, orient: 'vertical',
    icon: 'rect', itemWidth: 40, itemHeight: 3, itemGap: 5, selectedMode: false,
    textStyle: { fontSize: 21, fontFamily: SANS, color: '#000', padding: [0, 0, 0, 14], lineHeight: 22 },
  })
}
rocPanel([116, 1266, 548, 491], [gRisk, gTide, gTis], aucG, 425, 1665, 84)
rocPanel([801, 1266, 524, 491], [hRisk, hTide, hTis], aucH, 1097, 1665, 84)
rocPanel([1430, 1266, 533, 491], [iRisk, iTide, iTis], aucI, 1731, 1665, 84)
rocPanel([114, 1940, 534, 475], [jRisk, jTide, jTis], aucJ, 415, 2326, 81)
rocPanel([791, 1943, 546, 489], [kRisk, kTide, kTis], aucK, 1100, 2341, 85)

// minor grid lines for A
xAxes.push({
  gridIndex: gA, type: 'value', min: -0.012, max: 0.849,
  axisLine: { show: false, onZero: false }, axisLabel: { show: false },
  axisTick: { show: false, customValues: [0.1, 0.3, 0.5, 0.7] },
  splitLine: { show: true, lineStyle: { color: '#F0F0F0', width: 0.8 } },
})
yAxes.push({
  gridIndex: gA, type: 'value', min: -1.46, max: 30.56,
  axisLine: { show: false, onZero: false }, axisLabel: { show: false },
  axisTick: { show: false, customValues: [5, 15, 25] },
  splitLine: { show: true, lineStyle: { color: '#F0F0F0', width: 0.8 } },
})

// legends for B-F
legends.push({
  data: [
    { name: 'High', itemStyle: { color: 'transparent', borderColor: ORANGE, borderWidth: 1.8 } },
    { name: 'Low', itemStyle: { color: 'transparent', borderColor: PURPLE, borderWidth: 1.8 } },
  ],
  left: 305, top: 669, itemWidth: 25, itemHeight: 23, itemGap: 14, selectedMode: false,
  icon: 'path://M12,0L12,5M1,5L23,5L23,25L1,25ZM1,15L23,15M12,25L12,30M10,13L14,13L14,17L10,17Z',
  textStyle: { fontSize: 17, fontFamily: SANS, color: '#000', padding: [0, 0, 0, 9] },
})
const riskLegend = (left, top) => legends.push({
  data: ['Low', 'High'], left, top, itemWidth: 27, itemHeight: 27, itemGap: 10, icon: 'rect',
  selectedMode: false,
  itemStyle: { borderColor: '#000', borderWidth: 1.2 },
  textStyle: { fontSize: 17, fontFamily: SANS, color: '#000', padding: [0, 0, 0, 5] },
})
riskLegend(1021, 7)
riskLegend(1025, 624)
riskLegend(1611, 12)
riskLegend(1623, 624)

// panel letters and legend titles
const letters = [['A', 23, 33], ['B', 19, 686], ['C', 760, 31], ['D', 732, 686], ['E', 1361, 30], ['F', 1360, 686],
  ['G', 34, 1223], ['H', 744, 1228], ['I', 1358, 1229], ['J', 20, 1911], ['K', 736, 1914]]
letters.forEach(([t, x, y]) => graphics.push({
  type: 'text', x, y, silent: true,
  style: { text: t, font: '58px ' + SERIF, fill: '#000', align: 'center', verticalAlign: 'middle', textAlign: 'center', textVerticalAlign: 'middle' },
}))
const riskTitles = [[974, 21], [978, 637], [1564, 26], [1575, 637]]
riskTitles.forEach(([x, y]) => graphics.push({
  type: 'text', x, y, silent: true,
  style: { text: 'Risk', font: '19px ' + SANS, fill: '#000', align: 'left', verticalAlign: 'middle', textAlign: 'left', textVerticalAlign: 'middle' },
}))

const chart = echarts.init(document.getElementById('chart'), null, { renderer: 'canvas' })
chart.setOption({
  animation: false,
  backgroundColor: '#fff',
  textStyle: { fontFamily: SANS },
  grid: grids,
  xAxis: xAxes,
  yAxis: yAxes,
  legend: legends,
  series,
  graphic: graphics,
})
</script>
</body>
</html>
